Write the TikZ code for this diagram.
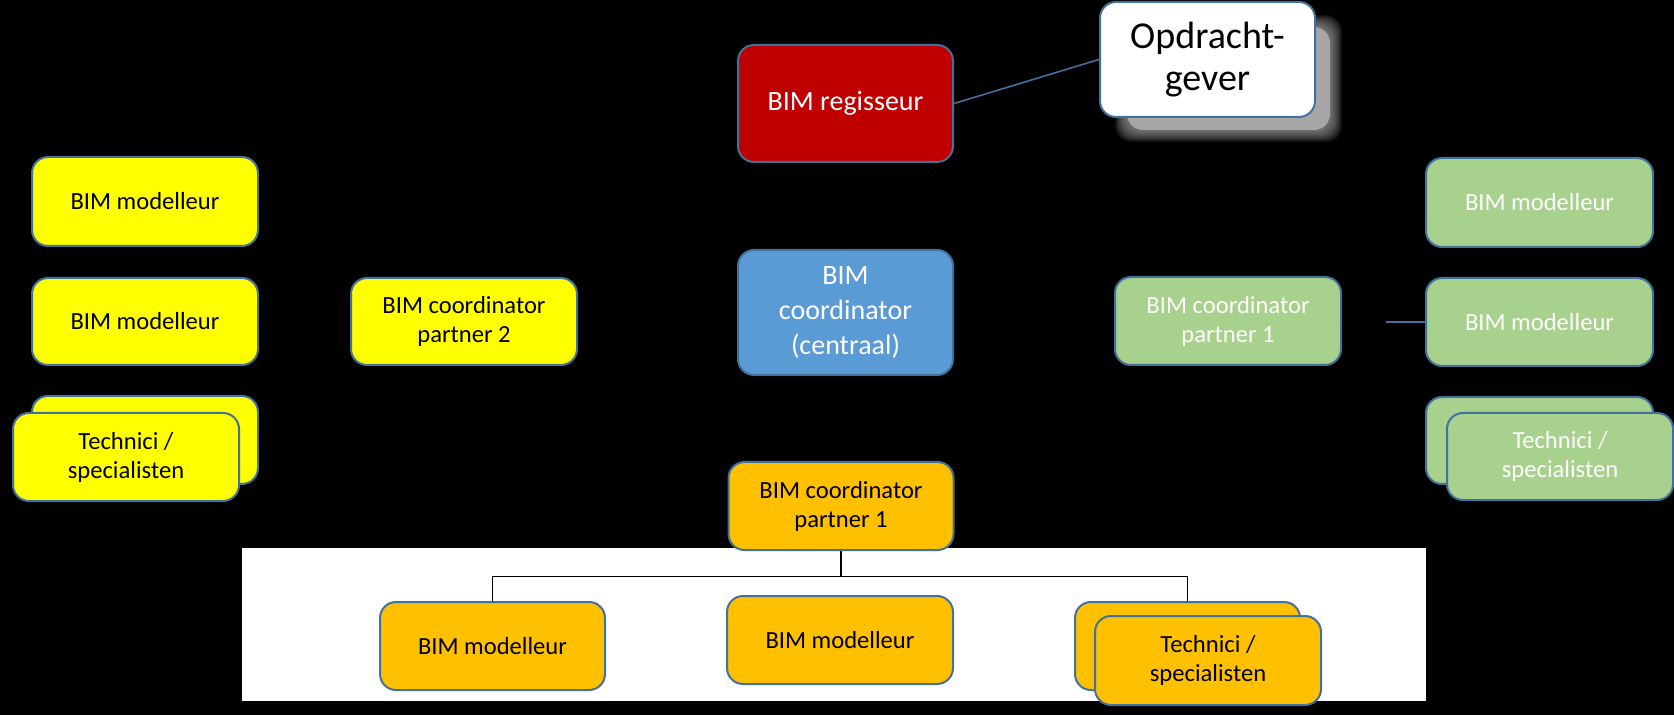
\documentclass[tikz,border=0pt]{standalone}
\usepackage{fontspec}
\setmainfont{Carlito}
\definecolor{bordc}{HTML}{41719C}
\definecolor{regred}{HTML}{C00000}
\definecolor{cenblue}{HTML}{5B9BD5}
\definecolor{ylw}{HTML}{FFFF00}
\definecolor{grn}{HTML}{A9D18E}
\definecolor{org}{HTML}{FFC000}
\definecolor{shd}{HTML}{A6A6A6}
\tikzset{
  box/.style={rounded corners=8pt, draw=bordc, line width=1pt, align=center, inner sep=0pt,
    font=\fontsize{12.3}{14.5}\selectfont},
  bigbox/.style={box, font=\fontsize{14}{17.5}\selectfont},
  ybox/.style={box, fill=ylw, text=black},
  gbox/.style={box, fill=grn, text=white},
  obox/.style={box, fill=org, text=black},
  hidden/.style={draw=black, line width=0.6pt},
  tree/.style={draw=black, line width=0.6pt},
  link/.style={draw=bordc, line width=0.8pt},
}
\begin{document}
\begin{tikzpicture}[x=0.5pt, y=-0.5pt]
\fill[black] (0,0) rectangle (1674,715);
\useasboundingbox (0,0) rectangle (1674,715);
% white panel
\fill[white] (242,548) rectangle (1426,701);

% soft shadow of Opdrachtgever
\foreach \g in {12,11,...,1}{
  \fill[shd, opacity=0.09, rounded corners=8pt] (1127-\g,27-\g) rectangle (1330+\g,130+\g);
}
\fill[shd, rounded corners=8pt] (1127,27) rectangle (1330,130);

% top row
\node[bigbox, fill=regred, text=white, minimum width=107.5pt, minimum height=58.5pt] (reg) at (845.5,103.5) {BIM regisseur};
\node[box, fill=white, text=black, minimum width=107.5pt, minimum height=57.5pt,
      font=\fontsize{19}{21}\selectfont] (opd) at (1207.5,59.5) {Opdracht-\\gever};
\node[bigbox, fill=cenblue, text=white, minimum width=107.5pt, minimum height=62.5pt] (cen) at (845.5,312.5) {BIM\\coordinator\\(centraal)};

% left (yellow)
\node[ybox, minimum width=113pt, minimum height=44.5pt] (ym1) at (145,201.5) {BIM modelleur};
\node[ybox, minimum width=113pt, minimum height=43.5pt] (ym2) at (145,321.5) {BIM modelleur};
\node[ybox, minimum width=113pt, minimum height=44pt] (ytb) at (145,440) {};
\node[ybox, minimum width=113pt, minimum height=44pt] (ytf) at (126,457) {Technici /\\specialisten};
\node[ybox, minimum width=113pt, minimum height=43.5pt] (yc2) at (464,321.5) {BIM coordinator\\partner 2};

% right (green)
\node[gbox, minimum width=113.5pt, minimum height=44.5pt] (gm1) at (1539.5,202.5) {BIM modelleur};
\node[gbox, minimum width=113.5pt, minimum height=44pt] (gm2) at (1539.5,322) {BIM modelleur};
\node[gbox, minimum width=113.5pt, minimum height=43.5pt] (gtb) at (1539.5,440.5) {};
\node[gbox, minimum width=113pt, minimum height=43.5pt] (gtf) at (1560,456.5) {Technici /\\specialisten};
\node[gbox, minimum width=113pt, minimum height=44pt] (gc1) at (1228,321) {BIM coordinator\\partner 1};

% bottom (orange)
\node[obox, minimum width=112.5pt, minimum height=44pt] (oc1) at (841,506) {BIM coordinator\\partner 1};
\node[obox, minimum width=112.5pt, minimum height=44pt] (om1) at (492.5,646) {BIM modelleur};
\node[obox, minimum width=113pt, minimum height=44pt] (om2) at (840,640) {BIM modelleur};
\node[obox, minimum width=112.5pt, minimum height=44pt] (otb) at (1187.5,646) {};
\node[obox, minimum width=113pt, minimum height=44.5pt] (otf) at (1208,660.5) {Technici /\\specialisten};

% connectors
\draw[link] (reg.east) -- (opd.west);
\draw[hidden] (reg.south) -- (cen.north);

\coordinate (yl) at (305,321.5);
\draw[hidden] (yc2.west) -- (yl);
\draw[hidden] (yl) |- (ym1.east);
\draw[hidden] (yl) |- (ym2.east);
\draw[hidden] (yl) |- (ytb.east);

\coordinate (gl) at (1385,322);
\draw[hidden] (gc1.east) -- (gl);
\draw[link] (gl) -- (gm2.west);
\draw[hidden] (gl) |- (gm1.west);
\draw[hidden] (gl) |- (gtb.west);

\coordinate (ob) at (841,576.5);
\draw[tree] (oc1.south) -- (ob);
\draw[tree] (ob) -| (om1.north);
\draw[tree] (ob) -| (otb.north);
\end{tikzpicture}
\end{document}
